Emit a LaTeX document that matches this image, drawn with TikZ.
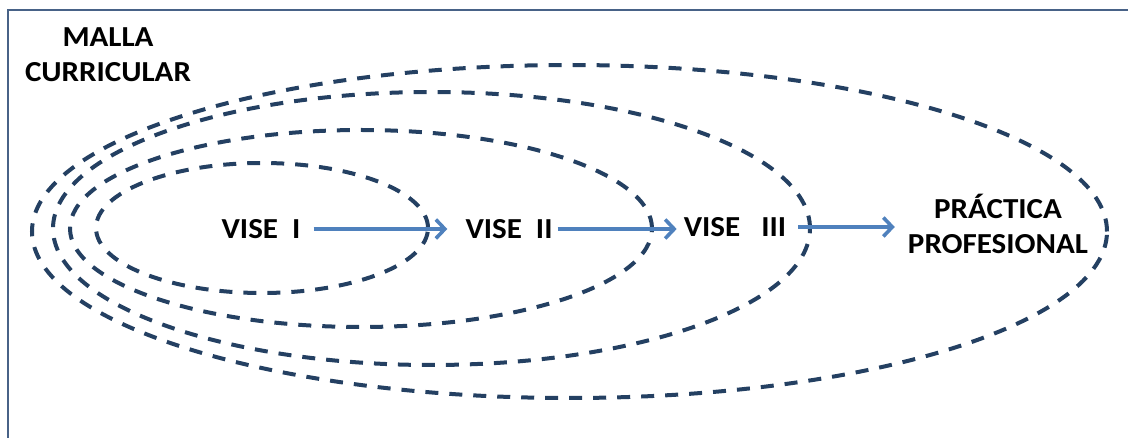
\documentclass[tikz,border=0pt]{standalone}
\usepackage{fontspec}
\setmainfont[FakeStretch=1.07]{Carlito}
\usetikzlibrary{arrows.meta}
\definecolor{azuloscuro}{RGB}{36,64,98}
\definecolor{azulflecha}{RGB}{79,129,189}
\definecolor{marco}{RGB}{72,98,135}
\begin{document}
\begin{tikzpicture}[x=1pt,y=-1pt,
  ovalo/.style={draw=azuloscuro,line width=4pt,dash pattern=on 13pt off 11pt},
  flecha/.style={draw=azulflecha,line width=3.6pt,-{Straight Barb[length=9pt,width=19pt]}},
  texto/.style={inner sep=0pt,font=\fontsize{29}{35}\selectfont\bfseries,align=center}]
\useasboundingbox (0,0) rectangle (1128,438);
\draw[line width=2.2pt,marco] (8,438) -- (8,10) -- (1128,10);
\draw[ovalo] (262,228) ellipse [x radius=166pt, y radius=65pt];
\draw[ovalo] (361,228.5) ellipse [x radius=291pt, y radius=98.5pt];
\draw[ovalo] (431.5,228.5) ellipse [x radius=378.5pt, y radius=136.5pt];
\draw[ovalo] (569.5,231.5) ellipse [x radius=537.5pt, y radius=166.5pt];
\node[texto] (malla) at (108,54.5) {MALLA\\CURRICULAR};
\node[texto] (viseI) at (261,229) {VISE\ \ I};
\node[texto] (viseII) at (509,229) {VISE\ \ II};
\node[texto] (viseIII) at (735,227) {VISE\ \ \ III};
\node[texto] (practica) at (998,224) {PRÁCTICA\\PROFESIONAL};
\draw[flecha,shorten <=13pt,shorten >=18pt] (viseI) -- (viseII);
\draw[flecha,shorten <=5pt,shorten >=7pt] (viseII.east) -- (viseII.east -| viseIII.west);
\draw[flecha,shorten <=12pt,shorten >=13pt] (viseIII.east) -- (viseIII.east -| practica.west);
\end{tikzpicture}
\end{document}
